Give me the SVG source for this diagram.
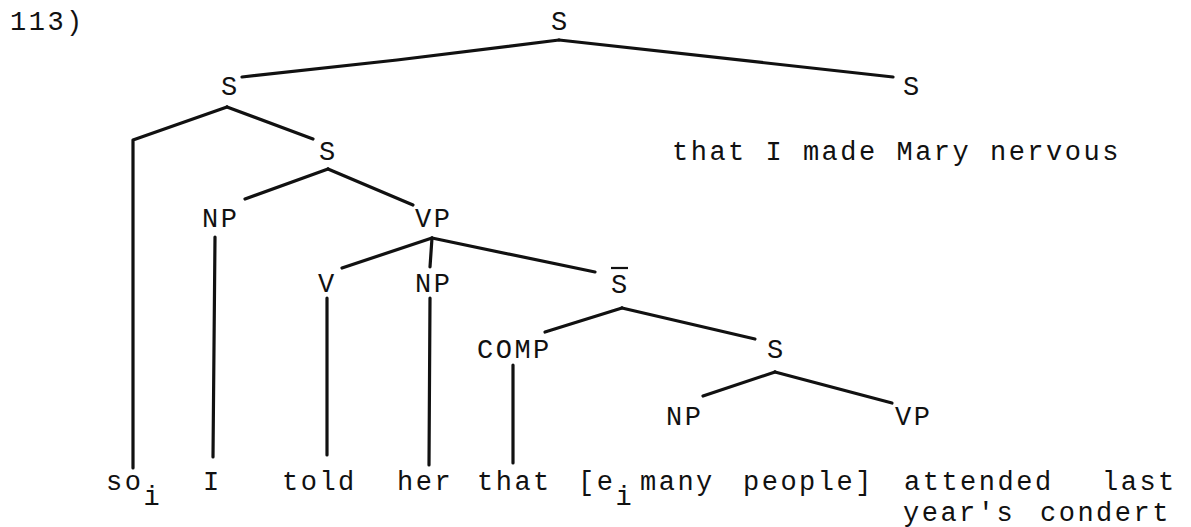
<svg xmlns="http://www.w3.org/2000/svg" width="1191" height="527" viewBox="0 0 1191 527">
  <style>
    text { font-family: "Liberation Mono", "DejaVu Sans Mono", monospace; font-size: 27px; letter-spacing: 2.5px; fill: #111; }
    .edge { stroke: #111; stroke-width: 3.2; fill: none; stroke-linecap: round; stroke-linejoin: round; }
    .bar { stroke: #111; stroke-width: 2.2; }
  </style>
  <rect width="1191" height="527" fill="#fff"/>

  <!-- example number -->
  <text x="10" y="30">113)</text>

  <!-- tree branches -->
  <g id="connectors">
    <path class="edge" d="M559 40 L397 60 L242 77"/>
    <path class="edge" d="M559 40 L893 77"/>
    <path class="edge" d="M227 107 L133 140 L133 468"/>
    <path class="edge" d="M227 107 L313 139"/>
    <path class="edge" d="M328 169 L245 199"/>
    <path class="edge" d="M328 169 L413 205"/>
    <path class="edge" d="M215 237 L213 457"/>
    <path class="edge" d="M432 238 L342 268"/>
    <path class="edge" d="M432 238 L430 267"/>
    <path class="edge" d="M432 238 L595 272"/>
    <path class="edge" d="M327 298 L327 455"/>
    <path class="edge" d="M430 298 L429 465"/>
    <path class="edge" d="M622 308 L545 332"/>
    <path class="edge" d="M622 308 L755 339"/>
    <path class="edge" d="M513 365 L513 463"/>
    <path class="edge" d="M775 372 L703 396"/>
    <path class="edge" d="M775 372 L892 403"/>
  </g>

  <!-- category labels -->
  <g id="s-root"><text x="551" y="30">S</text></g>
  <g id="s-left"><text x="221" y="95">S</text></g>
  <g id="s-right"><text x="903" y="95">S</text></g>
  <g id="s-main"><text x="319" y="160">S</text></g>
  <g id="np-subj"><text x="202" y="227">NP</text></g>
  <g id="vp-main"><text x="415" y="227">VP</text></g>
  <g id="v"><text x="318" y="292">V</text></g>
  <g id="np-obj"><text x="415" y="292">NP</text></g>
  <g id="s-bar"><line class="bar" x1="611" y1="268" x2="628" y2="268"/><text x="611" y="293">S</text></g>
  <g id="comp"><text x="477" y="358">COMP</text></g>
  <g id="s-emb"><text x="767" y="358">S</text></g>
  <g id="np-emb"><text x="666" y="425">NP</text></g>
  <g id="vp-emb"><text x="895" y="425">VP</text></g>

  <!-- extraposed clause -->
  <g id="clause"><text x="672" y="160">that I made Mary nervous</text></g>

  <!-- terminal string, subscripts lowered with tspans -->
  <g id="terminals">
    <text x="106" y="490">so<tspan dy="15">i</tspan></text>
    <text x="203" y="490">I</text>
    <text x="282" y="490">told</text>
    <text x="397" y="490">her</text>
    <text x="477" y="490">that</text>
    <text x="578" y="490">[e<tspan dy="15">i</tspan></text>
    <text x="640" y="490">many</text>
    <text x="743" y="490">people]</text>
    <text x="904" y="490">attended</text>
    <text x="1102" y="490">last</text>
    <text x="903" y="521">year's</text>
    <text x="1040" y="521">condert</text>
  </g>
</svg>
